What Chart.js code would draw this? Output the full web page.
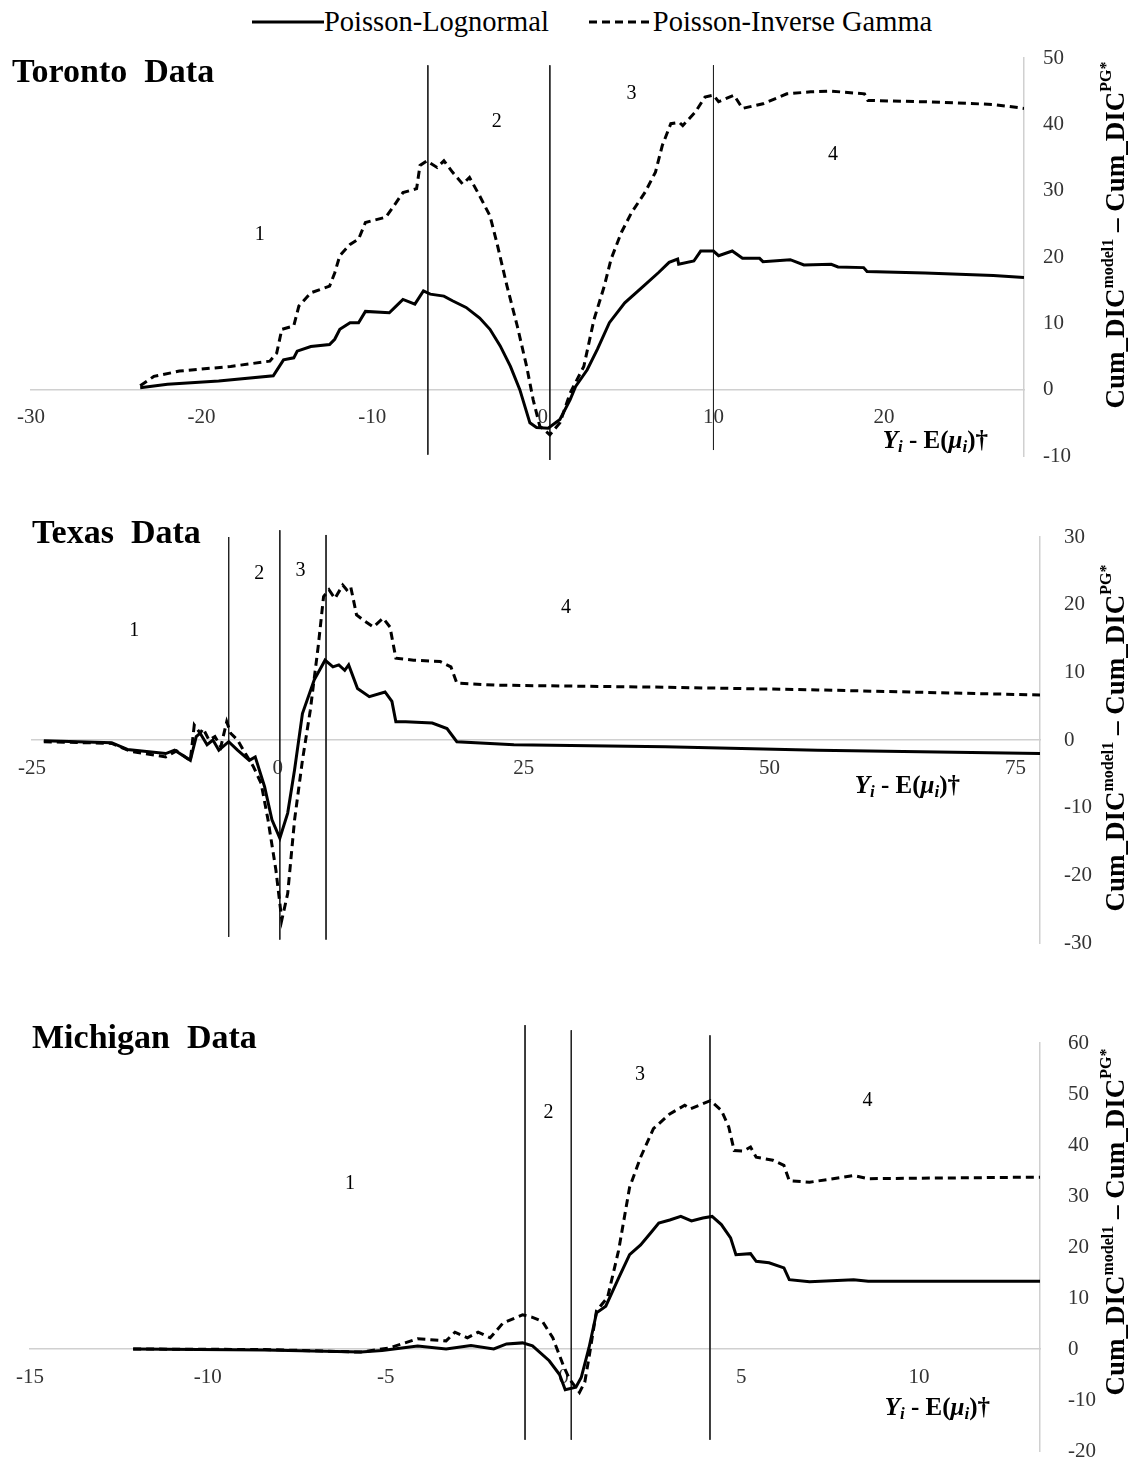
<!DOCTYPE html>
<html>
<head>
<meta charset="utf-8">
<script src="https://cdn.jsdelivr.net/npm/chart.js@4.4.1/dist/chart.umd.min.js"></script>
<style>
  body { margin: 0; background: #fff; width: 1130px; height: 1460px; position: relative; overflow: hidden; }
  canvas { position: absolute; left: 0; }
  #legend { position: absolute; top: 6px; left: 252px; display: flex; align-items: center; gap: 40px;
            font: 28.5px "Liberation Serif", "Times New Roman", serif; color: #000; white-space: nowrap; }
  #legend span { display: flex; align-items: center; }
</style>
</head>
<body>
<div id="legend"></div>
<canvas id="chart-toronto" width="1130" height="470" style="top:0"></canvas>
<canvas id="chart-texas" width="1130" height="480" style="top:480px"></canvas>
<canvas id="chart-michigan" width="1130" height="480" style="top:985px"></canvas>
<script>
var seriesNames = ['Poisson-Lognormal', 'Poisson-Inverse Gamma'];

// Toronto
var torontoPlnX = [-23.6, -22.0, -19.0, -15.8, -15.2, -14.6, -14.4, -13.6, -12.5, -12.2, -11.9, -11.3, -10.8, -10.4, -9.0, -8.6, -8.2, -7.5, -7.0, -6.6, -5.8, -5.3, -4.5, -3.7, -3.1, -2.5, -1.9, -1.35, -0.76, -0.37, 0.31, 1.0, 1.6, 1.92, 2.6, 3.2, 3.9, 4.8, 5.8, 6.8, 7.4, 7.9, 7.96, 8.85, 9.25, 10.0, 10.3, 11.1, 11.7, 12.7, 12.9, 14.5, 15.3, 16.9, 17.3, 18.8, 19.0, 22.4, 26.4, 28.2];
var torontoPlnY = [0.3, 0.8, 1.3, 2.1, 4.5, 4.8, 5.8, 6.5, 6.8, 7.6, 9.1, 10.1, 10.1, 11.8, 11.6, 12.6, 13.6, 12.9, 14.9, 14.4, 14.1, 13.4, 12.4, 10.8, 9.1, 6.6, 3.5, 0.0, -5.0, -5.7, -5.8, -4.5, -1.5, 0.5, 3.0, 6.1, 10.1, 13.1, 15.4, 17.7, 19.2, 19.7, 18.9, 19.4, 20.9, 20.9, 20.2, 20.9, 19.8, 19.8, 19.3, 19.6, 18.8, 18.9, 18.5, 18.4, 17.8, 17.6, 17.2, 16.9];
var torontoPigX = [-23.6, -22.8, -21.3, -18.3, -16.0, -15.6, -15.3, -14.6, -14.3, -13.6, -12.5, -12.2, -11.9, -11.3, -10.8, -10.4, -9.2, -8.6, -8.2, -7.4, -7.2, -6.8, -6.2, -5.8, -5.3, -4.7, -4.3, -3.7, -3.1, -2.7, -2.1, -1.5, -0.95, -0.57, -0.18, 0.41, 1.0, 1.6, 2.4, 3.0, 3.6, 4.0, 4.6, 5.2, 6.0, 6.6, 7.0, 7.5, 8.0, 8.2, 8.95, 9.5, 10.0, 10.3, 11.2, 11.7, 12.9, 14.3, 15.7, 16.9, 18.85, 19.05, 22.4, 26.4, 28.2];
var torontoPigY = [0.6, 2.0, 2.8, 3.5, 4.3, 5.5, 9.1, 9.6, 12.6, 14.6, 15.6, 17.6, 20.2, 21.9, 22.7, 25.2, 26.0, 28.2, 29.7, 30.3, 33.8, 34.5, 33.5, 34.5, 32.8, 31.0, 32.0, 29.2, 26.2, 22.2, 15.6, 9.6, 3.5, -1.5, -5.5, -6.8, -5.0, -0.5, 3.5, 10.6, 15.6, 19.7, 23.7, 26.7, 29.8, 32.8, 36.8, 40.1, 40.3, 39.8, 41.9, 44.1, 44.4, 43.4, 44.4, 42.4, 43.1, 44.6, 44.9, 45.0, 44.6, 43.6, 43.4, 43.0, 42.4];
var torontoXTicks = [-30, -20, -10, 0, 10, 20];
var torontoYTicks = [-10, 0, 10, 20, 30, 40, 50];
var torontoBounds = [-6.74, 0.41, 10.0];
var torontoBoundTop = [48.9, 48.9, 48.9];
var torontoBoundBottom = [-9.8, -10.6, -9.1];
var torontoRegionX = [-16.6, -2.7, 5.2, 17.0];
var torontoRegionY = [23.3, 40.4, 44.6, 35.4];

// Texas
var texasPlnX = [-23.8, -16.9, -15.3, -11.4, -10.5, -8.9, -8.3, -7.9, -7.2, -6.6, -6.0, -5.0, -4.1, -2.9, -2.3, -1.35, -0.6, 0.2, 1.0, 1.7, 2.5, 3.7, 4.8, 5.6, 6.2, 6.8, 7.2, 8.1, 9.3, 10.9, 11.6, 12.0, 13.0, 15.7, 17.2, 18.2, 24, 39.4, 54.9, 77.5];
var texasPlnY = [-0.1, -0.4, -1.4, -2.0, -1.5, -3.0, 0.5, 1.0, -0.7, 0.0, -1.5, -0.25, -1.5, -3.0, -2.5, -6.9, -11.8, -14.5, -10.8, -4.4, 3.9, 8.9, 11.8, 10.8, 11.1, 10.3, 11.1, 7.6, 6.4, 7.1, 5.7, 2.7, 2.7, 2.5, 1.7, -0.25, -0.7, -1.0, -1.5, -2.0];
var texasPigX = [-23.8, -16.9, -14.9, -11.4, -10.3, -8.9, -8.5, -7.9, -7.6, -7.0, -6.4, -5.8, -5.2, -4.8, -4.1, -3.3, -2.5, -1.7, -1.0, -0.2, 0.4, 1.0, 1.7, 2.5, 3.3, 4.1, 4.65, 5.2, 5.8, 6.6, 7.0, 7.4, 8.0, 8.7, 9.7, 10.7, 11.4, 12.0, 13.8, 16.5, 17.6, 18.2, 22.3, 39.4, 54.9, 77.5];
var texasPigY = [-0.25, -0.5, -1.7, -2.5, -1.6, -3.05, 2.2, 1.0, 1.7, 0.0, 0.5, -1.0, 2.7, 1.0, 0.0, -2.0, -3.9, -6.4, -11.8, -19.2, -26.6, -22.7, -11.8, -3.0, 4.4, 13.8, 21.2, 22.2, 20.9, 22.9, 22.2, 22.7, 18.5, 17.7, 16.7, 18.0, 16.7, 12.1, 11.8, 11.6, 10.8, 8.4, 8.1, 7.8, 7.4, 6.65];
var texasXTicks = [-25, 0, 25, 50, 75];
var texasYTicks = [-30, -20, -10, 0, 10, 20, 30];
var texasBounds = [-5.0, 0.2, 4.9];
var texasBoundTop = [30, 31, 30.3];
var texasBoundBottom = [-29.1, -29.5, -29.5];
var texasRegionX = [-14.6, -1.9, 2.3, 29.3];
var texasRegionY = [16.1, 24.5, 25.0, 19.6];

// Michigan
var michiganPlnX = [-12.1, -8.4, -5.7, -5.1, -4.1, -3.3, -2.6, -1.96, -1.6, -1.15, -0.87, -0.4, -0.11, 0.05, 0.35, 0.5, 0.72, 0.93, 1.19, 1.55, 1.86, 2.17, 2.48, 2.68, 2.99, 3.3, 3.6, 3.92, 4.18, 4.44, 4.7, 4.85, 5.26, 5.42, 5.78, 6.2, 6.35, 6.92, 8.16, 8.57, 13.4];
var michiganPlnY = [0.0, -0.2, -0.6, -0.3, 0.6, 0.0, 0.7, 0.0, 1.0, 1.2, 0.6, -2.3, -5.0, -8.0, -7.5, -5.6, 0.3, 7.1, 8.4, 13.9, 18.5, 20.4, 23.0, 24.7, 25.3, 26.0, 25.1, 25.7, 26.0, 24.4, 21.8, 18.5, 18.7, 17.2, 16.9, 15.9, 13.6, 13.2, 13.6, 13.3, 13.3];
var michiganPigX = [-12.1, -8.4, -5.7, -4.9, -4.1, -3.3, -3.05, -2.7, -2.4, -2.06, -1.7, -1.15, -0.87, -0.59, -0.3, 0.0, 0.17, 0.45, 0.6, 0.72, 0.93, 1.24, 1.55, 1.86, 2.17, 2.53, 2.99, 3.41, 3.57, 4.13, 4.44, 4.65, 4.8, 5.06, 5.26, 5.42, 5.89, 6.2, 6.35, 6.92, 8.16, 8.57, 13.4];
var michiganPigY = [0.0, -0.1, -0.6, 0.2, 2.0, 1.6, 3.3, 2.2, 3.3, 2.2, 5.1, 6.7, 6.2, 5.4, 2.2, -3.3, -5.9, -8.5, -6.5, -1.6, 7.5, 10.1, 19.3, 31.7, 37.6, 43.2, 46.1, 47.8, 47.1, 48.7, 46.8, 43.5, 38.9, 38.8, 39.6, 37.6, 37.0, 36.0, 33.0, 32.7, 34.0, 33.4, 33.7];
var michiganXTicks = [-15, -10, -5, 0, 5, 10];
var michiganYTicks = [-20, -10, 0, 10, 20, 30, 40, 50, 60];
var michiganBounds = [-1.08, 0.22, 4.12];
var michiganBoundTop = [63.5, 62.5, 61.5];
var michiganBoundBottom = [-17.8, -17.8, -17.8];
var michiganRegionX = [-6.0, -0.42, 2.15, 8.55];
var michiganRegionY = [32.4, 46.3, 53.7, 48.6];

var SERIF = '"Liberation Serif", "Times New Roman", serif';
var lineStyles = [
  { borderColor: '#000', borderWidth: 3, borderDash: [] },
  { borderColor: '#000', borderWidth: 3, borderDash: [8, 5] }
];

var xTitleRuns = [
  { t: 'Y', f: 'italic bold 25px', dy: 0 },
  { t: 'i', f: 'italic bold 17px', dy: 6 },
  { t: ' - E(', f: 'bold 25px', dy: 0 },
  { t: '\u03bc', f: 'italic bold 25px', dy: 0 },
  { t: 'i', f: 'italic bold 17px', dy: 6 },
  { t: ')\u2020', f: 'bold 25px', dy: 0 }
];
var yTitleRuns = [
  { t: 'Cum_DIC', f: 'bold 27px', dy: 0 },
  { t: 'model1', f: 'bold 16px', dy: -8 },
  { t: ' \u2013 Cum_DIC', f: 'bold 27px', dy: 0 },
  { t: 'PG*', f: 'bold 16px', dy: -10 }
];

function pts(xs, ys) {
  return xs.map(function (x, i) { return { x: x, y: ys[i] }; });
}

function drawRuns(ctx, runs, x, y, align) {
  var total = 0;
  runs.forEach(function (r) { ctx.font = r.f + ' ' + SERIF; total += ctx.measureText(r.t).width; });
  var cx = align === 'right' ? x - total : align === 'center' ? x - total / 2 : x;
  ctx.textAlign = 'left';
  ctx.textBaseline = 'middle';
  runs.forEach(function (r) {
    ctx.font = r.f + ' ' + SERIF;
    ctx.fillText(r.t, cx, y + r.dy);
    cx += ctx.measureText(r.t).width;
  });
}

var panelText = {
  id: 'panelText',
  afterDraw: function (chart, args, o) {
    var ctx = chart.ctx, xs = chart.scales.x, ys = chart.scales.y;
    ctx.save();
    ctx.fillStyle = '#000';
    ctx.font = 'bold 34px ' + SERIF;
    ctx.textAlign = 'left';
    ctx.textBaseline = 'alphabetic';
    ctx.fillText(o.title, o.titleX, o.titleY);

    ctx.font = '20px ' + SERIF;
    ctx.textAlign = 'center';
    ctx.textBaseline = 'middle';
    o.regionX.forEach(function (v, i) {
      ctx.fillText(String(i + 1), xs.getPixelForValue(v), ys.getPixelForValue(o.regionY[i]));
    });

    drawRuns(ctx, xTitleRuns, chart.chartArea.right - o.xTitleRight, ys.getPixelForValue(0) + o.xTitleDy, 'right');

    ctx.translate(o.yTitleX, o.yTitleY);
    ctx.rotate(-Math.PI / 2);
    drawRuns(ctx, yTitleRuns, 0, 0, 'center');
    ctx.restore();
  }
};

function makePanel(id, p) {
  var datasets = [
    Object.assign({ label: seriesNames[0], data: pts(p.plnX, p.plnY), pointRadius: 0, tension: 0 }, lineStyles[0]),
    Object.assign({ label: seriesNames[1], data: pts(p.pigX, p.pigY), pointRadius: 0, tension: 0 }, lineStyles[1])
  ];
  p.bounds.forEach(function (b, i) {
    datasets.push({
      label: '', data: [{ x: b, y: p.boundTop[i] }, { x: b, y: p.boundBottom[i] }],
      borderColor: '#222', borderWidth: 1, pointRadius: 0, clip: false
    });
  });

  new Chart(document.getElementById(id), {
    type: 'line',
    data: { datasets: datasets },
    options: {
      responsive: false,
      animation: false,
      events: [],
      layout: { padding: p.pad },
      scales: {
        x: {
          type: 'linear', min: p.xMin, max: p.xMax, position: { y: 0 },
          // tick marks are hidden, their length only moves the labels off the axis
          grid: { display: false, drawTicks: true, tickLength: p.xTickGap },
          border: { color: '#d0d0d0', width: 1.5 },
          ticks: { color: '#333', font: { family: SERIF, size: 21 }, padding: 0, maxRotation: 0 },
          afterBuildTicks: function (s) { s.ticks = p.xTicks.map(function (v) { return { value: v }; }); }
        },
        y: {
          type: 'linear', position: 'right', min: p.yMin, max: p.yMax,
          grid: { display: false, drawTicks: true, tickLength: p.yTickGap },
          border: { color: '#d0d0d0', width: 1.5 },
          ticks: { color: '#333', font: { family: SERIF, size: 21 }, padding: 0 },
          afterBuildTicks: function (s) { s.ticks = p.yTicks.map(function (v) { return { value: v }; }); },
          afterFit: function (s) { s.width = p.yWidth; }
        }
      },
      plugins: {
        legend: { display: false },
        tooltip: { enabled: false },
        panelText: p.text
      }
    },
    plugins: [panelText]
  });
}

makePanel('chart-toronto', {
  plnX: torontoPlnX, plnY: torontoPlnY, pigX: torontoPigX, pigY: torontoPigY,
  bounds: torontoBounds, boundTop: torontoBoundTop, boundBottom: torontoBoundBottom,
  xMin: -30, xMax: 28.2, xTicks: torontoXTicks, yMin: -10, yMax: 50, yTicks: torontoYTicks,
  pad: { left: 31, top: 58, right: 0, bottom: 14 }, yWidth: 106, xTickGap: 15, yTickGap: 19,
  text: { title: 'Toronto  Data', titleX: 12, titleY: 82, regionX: torontoRegionX, regionY: torontoRegionY,
          xTitleRight: 36, xTitleDy: 52, yTitleX: 1117, yTitleY: 235 }
});

makePanel('chart-texas', {
  plnX: texasPlnX, plnY: texasPlnY, pigX: texasPigX, pigY: texasPigY,
  bounds: texasBounds, boundTop: texasBoundTop, boundBottom: texasBoundBottom,
  xMin: -25, xMax: 77.5, xTicks: texasXTicks, yMin: -30, yMax: 30, yTicks: texasYTicks,
  pad: { left: 32, top: 57, right: 0, bottom: 17 }, yWidth: 90, xTickGap: 16, yTickGap: 24,
  text: { title: 'Texas  Data', titleX: 32, titleY: 63, regionX: texasRegionX, regionY: texasRegionY,
          xTitleRight: 80, xTitleDy: 47, yTitleX: 1117, yTitleY: 258 }
});

makePanel('chart-michigan', {
  plnX: michiganPlnX, plnY: michiganPlnY, pigX: michiganPigX, pigY: michiganPigY,
  bounds: michiganBounds, boundTop: michiganBoundTop, boundBottom: michiganBoundBottom,
  xMin: -15, xMax: 13.4, xTicks: michiganXTicks, yMin: -20, yMax: 60, yTicks: michiganYTicks,
  pad: { left: 30, top: 58, right: 0, bottom: 14 }, yWidth: 90, xTickGap: 16, yTickGap: 28,
  text: { title: 'Michigan  Data', titleX: 32, titleY: 63, regionX: michiganRegionX, regionY: michiganRegionY,
          xTitleRight: 50, xTitleDy: 60, yTitleX: 1117, yTitleY: 237 }
});

// legend built from the series names and line styles
var legend = document.getElementById('legend');
seriesNames.forEach(function (name, i) {
  var st = lineStyles[i];
  var item = document.createElement('span');
  var w = i === 0 ? 72 : 64;
  item.innerHTML = '<svg width="' + w + '" height="6"><line x1="0" y1="3" x2="' + w + '" y2="3" stroke="' + st.borderColor +
    '" stroke-width="' + st.borderWidth + '" stroke-dasharray="' + st.borderDash.join(',') + '"/></svg>';
  item.appendChild(document.createTextNode(name));
  legend.appendChild(item);
});
</script>
</body>
</html>
